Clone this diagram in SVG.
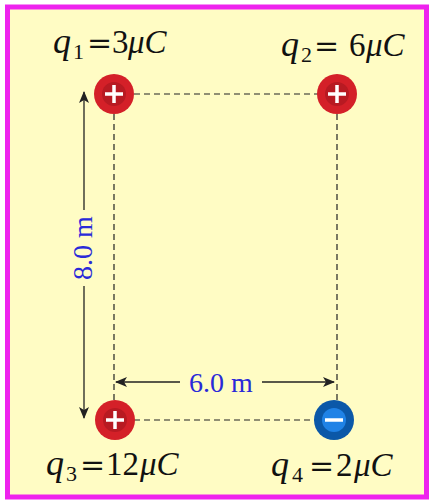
<svg xmlns="http://www.w3.org/2000/svg" width="429" height="502" viewBox="0 0 429 502">
<style>
.dash{stroke:#222;stroke-width:1.2;stroke-dasharray:6 4;fill:none}
.arr{stroke:#222;stroke-width:1.3;fill:none}
.lbl{font-family:"Liberation Serif",serif;font-size:33px;fill:#111}
.it{font-style:italic}
.q{font-size:36px}
.sub{font-size:22px}
.eq{font-family:"DejaVu Serif",serif;font-size:30px}
.dim{font-family:"Liberation Serif",serif;font-size:28px;fill:#2a2ad8}
.sign{stroke:#fff;stroke-width:3.5;stroke-linecap:butt}
</style>
<defs>
<marker id="ah" viewBox="0 0 12 10" refX="11" refY="5" markerWidth="12" markerHeight="10" markerUnits="userSpaceOnUse" orient="auto-start-reverse">
<path d="M0,0 L12,5 L0,10 L3,5 Z" fill="#222"/>
</marker>
</defs>
<rect x="7.5" y="7" width="419" height="490" fill="#fffcc4" stroke="#ee22ee" stroke-width="5"/>
<g id="connectors">
<line class="dash" x1="114" y1="94" x2="337" y2="94"/>
<line class="dash" x1="114" y1="94" x2="114" y2="420"/>
<line class="dash" x1="337" y1="94" x2="337" y2="420"/>
<line class="dash" x1="114" y1="420" x2="334" y2="420"/>
<line class="arr" x1="84" y1="210" x2="84" y2="92" marker-end="url(#ah)"/>
<line class="arr" x1="84" y1="286" x2="84" y2="418" marker-end="url(#ah)"/>
<line class="arr" x1="180" y1="382" x2="116" y2="382" marker-end="url(#ah)"/>
<line class="arr" x1="262" y1="382" x2="334" y2="382" marker-end="url(#ah)"/>
<text class="dim" transform="translate(92,248) rotate(-90)" text-anchor="middle">8.0 m</text>
<text class="dim" x="221" y="392" text-anchor="middle">6.0 m</text>
</g>
<g id="q1">
<circle cx="114" cy="94" r="20" fill="#d42028"/>
<circle cx="114" cy="94" r="12" fill="#b81a22"/>
<path class="sign" d="M105,94 H123 M114,85 V103"/>
<text class="lbl" y="53"><tspan class="it q" x="53">q</tspan><tspan class="sub" x="73" y="59">1</tspan><tspan class="eq" x="87" y="53">=</tspan><tspan x="112">3</tspan><tspan class="it" x="128">μC</tspan></text>
</g>
<g id="q2">
<circle cx="337" cy="94" r="20" fill="#d42028"/>
<circle cx="337" cy="94" r="12" fill="#b81a22"/>
<path class="sign" d="M328,94 H346 M337,85 V103"/>
<text class="lbl" y="56"><tspan class="it q" x="281">q</tspan><tspan class="sub" x="301" y="62">2</tspan><tspan class="eq" x="314" y="56">=</tspan><tspan x="349">6</tspan><tspan class="it" x="366">μC</tspan></text>
</g>
<g id="q3">
<circle cx="115" cy="420" r="20" fill="#d42028"/>
<circle cx="115" cy="420" r="12" fill="#b81a22"/>
<path class="sign" d="M106,420 H124 M115,411 V429"/>
<text class="lbl" y="475"><tspan class="it q" x="46">q</tspan><tspan class="sub" x="66" y="481">3</tspan><tspan class="eq" x="80" y="475">=</tspan><tspan x="106">12</tspan><tspan class="it" x="140">μC</tspan></text>
</g>
<g id="q4">
<circle cx="334" cy="420" r="20" fill="#0b58a8"/>
<circle cx="334" cy="420" r="12" fill="#1f82e6"/>
<path class="sign" d="M325,420 H343"/>
<text class="lbl" y="476"><tspan class="it q" x="271">q</tspan><tspan class="sub" x="292" y="482">4</tspan><tspan class="eq" x="309" y="476">=</tspan><tspan x="336">2</tspan><tspan class="it" x="354">μC</tspan></text>
</g>
</svg>
